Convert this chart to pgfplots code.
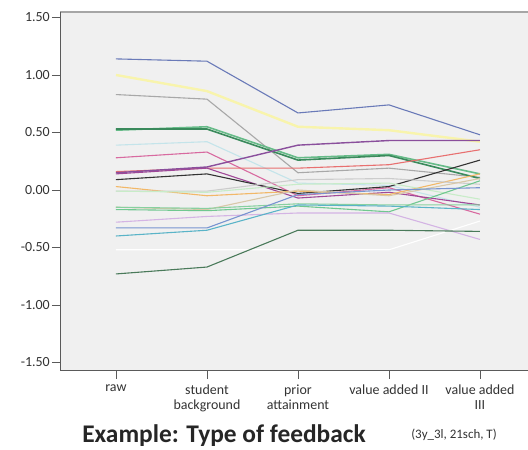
\documentclass[border=0pt]{standalone}
\usepackage{pgfplots}
\pgfplotsset{compat=1.18}
\usepackage{fontspec}
\setmainfont{Carlito}
\definecolor{bgc}{RGB}{240,240,240}
\definecolor{cA}{RGB}{106,122,184}
\definecolor{cB}{RGB}{248,244,172}
\definecolor{cC}{RGB}{168,168,168}
\definecolor{cD}{RGB}{58,138,92}
\definecolor{cE}{RGB}{102,187,136}
\definecolor{cF}{RGB}{196,228,234}
\definecolor{cG}{RGB}{216,106,160}
\definecolor{cH}{RGB}{138,79,156}
\definecolor{cI}{RGB}{232,112,112}
\definecolor{cJ}{RGB}{160,72,152}
\definecolor{cK}{RGB}{51,51,51}
\definecolor{cL}{RGB}{242,184,104}
\definecolor{cM}{RGB}{204,204,204}
\definecolor{cN}{RGB}{200,236,200}
\definecolor{cO}{RGB}{216,200,168}
\definecolor{cP}{RGB}{112,200,144}
\definecolor{cQ}{RGB}{136,208,160}
\definecolor{cR}{RGB}{212,180,228}
\definecolor{cS}{RGB}{120,148,208}
\definecolor{cT}{RGB}{90,180,200}
\definecolor{cV}{RGB}{74,122,90}
\definecolor{axc}{RGB}{90,90,90}
\begin{document}
\begin{tikzpicture}[x=1bp,y=1bp]
\fill[white] (-60,-79) rectangle (468,371);
\begin{axis}[at={(0,0)}, anchor=south west, scale only axis,
  width=468bp, height=359bp,
  xmin=-0.615, xmax=4.528, ymin=-1.574, ymax=1.548,
  axis background/.style={fill=bgc},
  axis line style={draw=none},
  xtick={0,1,2,3,4},
  xticklabels={raw,{student\\background},{prior\\attainment},{value added II},{value added\\III}},
  ytick={-1.5,-1,-0.5,0,0.5,1,1.5},
  yticklabels={-1.50,-1.00,-0.50,0.00,0.50,1.00,1.50},
  xtick pos=bottom, ytick pos=left, tick align=outside,
  major tick length=8bp,
  tick style={axc, line width=0.8bp},
  xticklabel style={align=center, font=\fontsize{14}{14.5}\selectfont, text=black!80, inner sep=2bp, yshift=-4bp},
  yticklabel style={font=\fontsize{14}{14.5}\selectfont, text=black!80, inner sep=2bp},
  every axis plot/.append style={line width=1.1bp, mark=none},
]
\addplot[cA] coordinates {(0,1.14) (1,1.12) (2,0.67) (3,0.74) (4,0.48)};
\addplot[cB, line width=2.4bp] coordinates {(0,1.00) (1,0.86) (2,0.55) (3,0.52) (4,0.42)};
\addplot[cC] coordinates {(0,0.83) (1,0.79) (2,0.15) (3,0.19) (4,0.11)};
\addplot[cE, line width=1.6bp] coordinates {(0,0.52) (1,0.55) (2,0.28) (3,0.31) (4,0.14)};
\addplot[cD, line width=1.6bp] coordinates {(0,0.53) (1,0.53) (2,0.26) (3,0.30) (4,0.10)};
\addplot[cF] coordinates {(0,0.39) (1,0.42) (2,0.06) (3,0.04) (4,-0.15)};
\addplot[cG] coordinates {(0,0.28) (1,0.33) (2,-0.05) (3,0.02) (4,-0.21)};
\addplot[cI] coordinates {(0,0.16) (1,0.19) (2,0.19) (3,0.22) (4,0.35)};
\addplot[cJ] coordinates {(0,0.14) (1,0.19) (2,-0.07) (3,-0.02) (4,-0.13)};
\addplot[cH, line width=1.4bp] coordinates {(0,0.15) (1,0.20) (2,0.39) (3,0.43) (4,0.43)};
\addplot[cK] coordinates {(0,0.09) (1,0.14) (2,-0.03) (3,0.03) (4,0.26)};
\addplot[cL] coordinates {(0,0.03) (1,-0.05) (2,-0.01) (3,-0.04) (4,0.14)};
\addplot[cM] coordinates {(0,-0.01) (1,-0.01) (2,0.09) (3,0.10) (4,0.05)};
\addplot[cN] coordinates {(0,-0.01) (1,-0.02) (2,0.05) (3,0.06) (4,-0.08)};
\addplot[cO] coordinates {(0,-0.15) (1,-0.17) (2,0.00) (3,-0.05) (4,0.10)};
\addplot[cP] coordinates {(0,-0.17) (1,-0.18) (2,-0.14) (3,-0.19) (4,0.08)};
\addplot[cQ] coordinates {(0,-0.15) (1,-0.16) (2,-0.12) (3,-0.13) (4,-0.13)};
\addplot[cR] coordinates {(0,-0.28) (1,-0.23) (2,-0.20) (3,-0.20) (4,-0.43)};
\addplot[cS] coordinates {(0,-0.33) (1,-0.33) (2,-0.04) (3,0.00) (4,0.02)};
\addplot[cT] coordinates {(0,-0.40) (1,-0.35) (2,-0.13) (3,-0.14) (4,-0.17)};
\addplot[white] coordinates {(0,-0.52) (1,-0.52) (2,-0.52) (3,-0.52) (4,-0.27)};
\addplot[cV] coordinates {(0,-0.73) (1,-0.67) (2,-0.35) (3,-0.35) (4,-0.36)};
\draw[black!35, line width=1.2bp] (rel axis cs:0,1) -- (rel axis cs:1,1);
\draw[axc, line width=1bp] (rel axis cs:0,1) -- (rel axis cs:0,0) -- (rel axis cs:1,0);
\end{axis}
\node[anchor=base, font=\fontsize{25.5}{25.5}\selectfont\bfseries, text=black!85] at (164,-72) {Example: Type of feedback};
\node[anchor=base, font=\fontsize{13}{13}\selectfont, text=black!80] at (394,-68) {(3y\_3l, 21sch, T)};
\pgfresetboundingbox
\path[use as bounding box] (-60,-79) rectangle (468,371);
\end{tikzpicture}
\end{document}
